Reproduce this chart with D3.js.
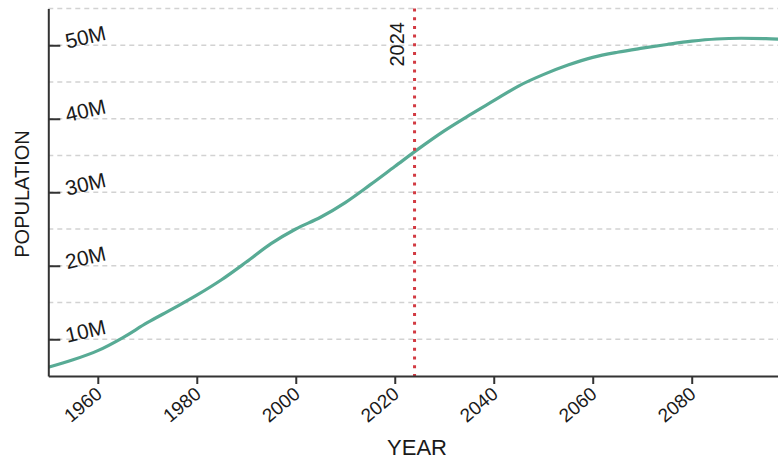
<!DOCTYPE html>
<html>
<head>
<meta charset="utf-8">
<script src="https://cdn.jsdelivr.net/npm/d3@7"></script>
<style>
  html, body { margin: 0; padding: 0; background: #fff; }
  svg { display: block; }
  text { font-family: "Liberation Sans", Arial, Helvetica, sans-serif; fill: #1a1a1a; }
</style>
</head>
<body>
<svg id="chart" width="778" height="460"></svg>
<script>
// ---- data (population, millions) ----
const years = [1950,1955,1960,1965,1970,1975,1980,1985,1990,1995,2000,2005,2010,2015,2020,2025,2030,2035,2040,2045,2050,2055,2060,2065,2070,2075,2080,2085,2090,2095,2100];
const populationM = [6.2,7.2,8.45,10.2,12.25,14.1,16.0,18.1,20.5,23.0,25.0,26.6,28.6,31.0,33.5,36.0,38.35,40.45,42.45,44.45,46.0,47.3,48.35,49.05,49.6,50.1,50.55,50.85,50.95,50.9,50.75];
const xTickYears = [1960,1980,2000,2020,2040,2060,2080];
const yTickValues = [10e6,20e6,30e6,40e6,50e6];
const gridValues = [10e6,15e6,20e6,25e6,30e6,35e6,40e6,45e6,50e6,55e6];
const markerYear = 2024;
const markerLabel = "2024";
const xTitle = "YEAR";
const yTitle = "POPULATION";

const data = years.map((yr, i) => ({ year: yr, pop: populationM[i] * 1e6 }));

const svg = d3.select("#chart");
const x = d3.scaleLinear().domain([1950, 2100]).range([48.3, 790.7]);
const y = d3.scaleLinear().domain([5e6, 55e6]).range([376, 8.5]);

// gridlines
svg.append("g").selectAll("line").data(gridValues).join("line")
  .attr("x1", x(1950)).attr("x2", 778)
  .attr("y1", d => y(d)).attr("y2", d => y(d))
  .attr("stroke", "#d2d2d2").attr("stroke-width", 1.5)
  .attr("stroke-dasharray", "5,4");

// line
const line = d3.line().x(d => x(d.year)).y(d => y(d.pop)).curve(d3.curveMonotoneX);
svg.append("path").datum(data)
  .attr("d", line)
  .attr("fill", "none")
  .attr("stroke", "#58ab95")
  .attr("stroke-width", 3.2);

// marker line 2024
svg.append("line")
  .attr("x1", x(markerYear)).attr("x2", x(markerYear))
  .attr("y1", y(55e6)).attr("y2", y(5e6))
  .attr("stroke", "#d23a42").attr("stroke-width", 3)
  .attr("stroke-dasharray", "3,5.7");
svg.append("text")
  .attr("transform", `translate(${x(markerYear) - 11},22) rotate(-90)`)
  .attr("text-anchor", "end")
  .style("font-size", "20px")
  .text(markerLabel);

// y axis (ticks inside)
const yAxis = svg.append("g")
  .attr("transform", `translate(${x(1950)},0)`)
  .call(d3.axisRight(y).tickValues(yTickValues).tickSize(12).tickSizeOuter(0)
        .tickFormat(d => (d / 1e6) + "M"));
yAxis.select(".domain").attr("stroke", "#333").attr("stroke-width", 2);
yAxis.selectAll(".tick line").attr("stroke", "#333").attr("stroke-width", 2);
yAxis.selectAll(".tick text")
  .attr("x", null).attr("dy", null)
  .attr("transform", "translate(19,3) rotate(-13)")
  .attr("text-anchor", "start")
  .style("font-size", "21px")
  .attr("fill", "#1a1a1a");

// x axis
const xAxis = svg.append("g")
  .attr("transform", `translate(0,${y(5e6)})`)
  .call(d3.axisBottom(x).tickValues(xTickYears).tickSize(8).tickSizeOuter(0)
        .tickFormat(d3.format("d")));
xAxis.select(".domain").attr("stroke", "#333").attr("stroke-width", 2);
xAxis.selectAll(".tick line").attr("stroke", "#333").attr("stroke-width", 2);
xAxis.selectAll(".tick text")
  .attr("y", null).attr("dy", null)
  .attr("transform", "translate(5,20) rotate(-40)")
  .attr("text-anchor", "end")
  .style("font-size", "19px")
  .attr("fill", "#1a1a1a");

// axis titles
svg.append("text")
  .attr("x", 417).attr("y", 455)
  .attr("text-anchor", "middle")
  .style("font-size", "22px")
  .text(xTitle);
svg.append("text")
  .attr("transform", "translate(29,194) rotate(-90)")
  .attr("text-anchor", "middle")
  .style("font-size", "20px")
  .text(yTitle);
</script>
</body>
</html>
